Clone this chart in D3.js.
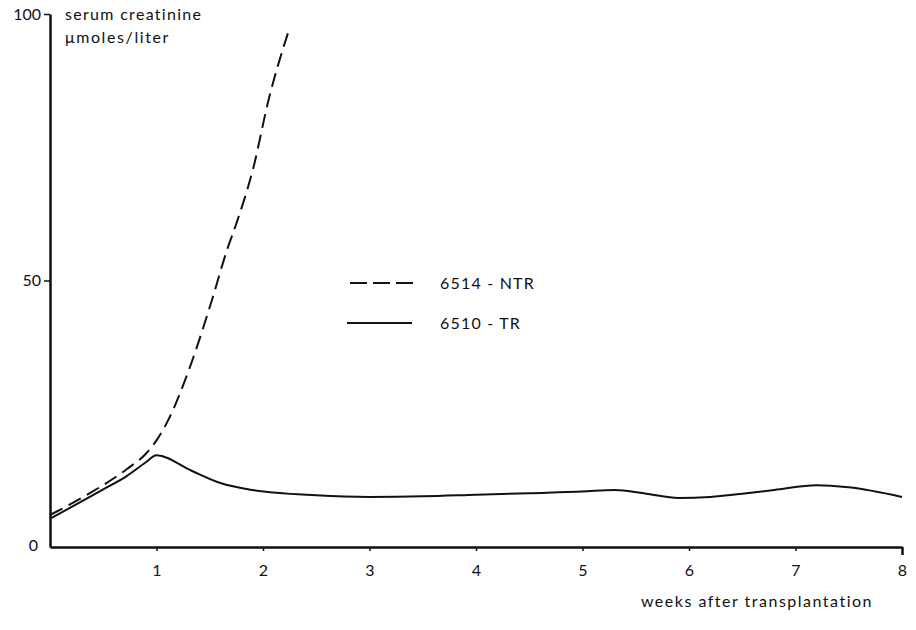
<!DOCTYPE html>
<html><head><meta charset="utf-8">
<script src="https://cdn.jsdelivr.net/npm/d3@7"></script>
<style>
body{margin:0;background:#fff;}
text{font-family:Lato,"Noto Sans",sans-serif;fill:#111;}
</style></head>
<body><svg id="c" width="916" height="630"></svg>
<script>
const xTicks = [1,2,3,4,5,6,7,8];
const yTicks = [0,50,100];
const ntrWeeks  = [0, 0.34, 0.72, 0.9, 1.0, 1.11, 1.3, 1.52, 1.66, 1.75, 1.91, 2.05, 2.25];
const ntrValues = [6, 9.7, 14.6, 17.5, 20, 23.8, 33, 46.3, 55.6, 60.7, 71.2, 83.7, 97.4];
const trWeeks  = [0, 0.5, 0.72, 0.9, 1, 1.33, 1.6, 1.9, 2.5, 3, 3.5, 4, 4.5, 5, 5.3, 5.6, 5.9, 6.2, 6.5, 6.8, 7.2, 7.5, 8];
const trValues = [5.3, 10.8, 13.3, 15.9, 17.2, 14.3, 12, 10.7, 9.7, 9.4, 9.5, 9.8, 10.1, 10.4, 10.7, 10.0, 9.2, 9.4, 10, 10.7, 11.6, 11.2, 9.4];
const seriesNames = ["6514 - NTR", "6510 - TR"];

const FONT = "Lato,'Noto Sans',sans-serif";
const svg = d3.select("#c");
const x = d3.scaleLinear().domain([0,8]).range([50,902]);
const y = d3.scaleLinear().domain([0,100]).range([547,14]);

// y axis
const ya = svg.append("g").attr("transform","translate(50,0)")
  .call(d3.axisLeft(y).tickValues(yTicks).tickSize(6).tickPadding(3).tickSizeOuter(0));
ya.select(".domain").attr("stroke","#111").attr("stroke-width",2.5);
ya.selectAll(".tick line").attr("stroke","#111").attr("stroke-width",1.5)
  .filter(d=>d===0).remove();
ya.selectAll(".tick text").style("font-size","16px").style("font-family",FONT).attr("fill","#111");
ya.selectAll(".tick").filter(d=>d===0).select("text").attr("x",-12).attr("dy","0.2em");

// x axis
const xa = svg.append("g").attr("transform","translate(0,547)")
  .call(d3.axisBottom(x).tickValues(xTicks).tickSize(4).tickPadding(14).tickSizeOuter(0));
xa.select(".domain").attr("stroke","#111").attr("stroke-width",2.5);
xa.selectAll(".tick line").attr("stroke","#111").attr("stroke-width",1.5);
xa.selectAll(".tick").filter(d=>d===8).select("line").attr("y2",8).attr("stroke-width",2.5);
xa.selectAll(".tick text").style("font-size","16px").style("font-family",FONT).attr("fill","#111");

// titles
svg.append("text").attr("x",65).attr("y",20).style("font-size","16px").style("letter-spacing","1.3px").text("serum creatinine");
svg.append("text").attr("x",65).attr("y",43).style("font-size","16px").style("letter-spacing","1.6px").text("μmoles/liter");
svg.append("text").attr("x",873).attr("y",607).attr("text-anchor","end").style("font-size","16px").style("letter-spacing","1.5px").text("weeks after transplantation");

// lines
const line = d3.line().x(d=>x(d[0])).y(d=>y(d[1])).curve(d3.curveMonotoneX);
const ntr = d3.zip(ntrWeeks, ntrValues);
const tr = d3.zip(trWeeks, trValues);
svg.append("path").datum(ntr).attr("d", line).attr("fill","none").attr("stroke","#111")
  .attr("stroke-width",2).attr("stroke-dasharray","14,7");
svg.append("path").datum(tr).attr("d", line).attr("fill","none").attr("stroke","#111")
  .attr("stroke-width",2);

// legend
const lg = svg.append("g");
lg.append("line").attr("x1",350).attr("x2",413).attr("y1",283).attr("y2",283)
  .attr("stroke","#111").attr("stroke-width",2).attr("stroke-dasharray","17,6");
lg.append("line").attr("x1",347).attr("x2",412).attr("y1",323).attr("y2",323)
  .attr("stroke","#111").attr("stroke-width",2);
lg.append("text").attr("x",440).attr("y",289).style("font-size","16px").style("letter-spacing","1.2px").text(seriesNames[0]);
lg.append("text").attr("x",440).attr("y",329).style("font-size","16px").style("letter-spacing","1.2px").text(seriesNames[1]);
</script></body></html>
